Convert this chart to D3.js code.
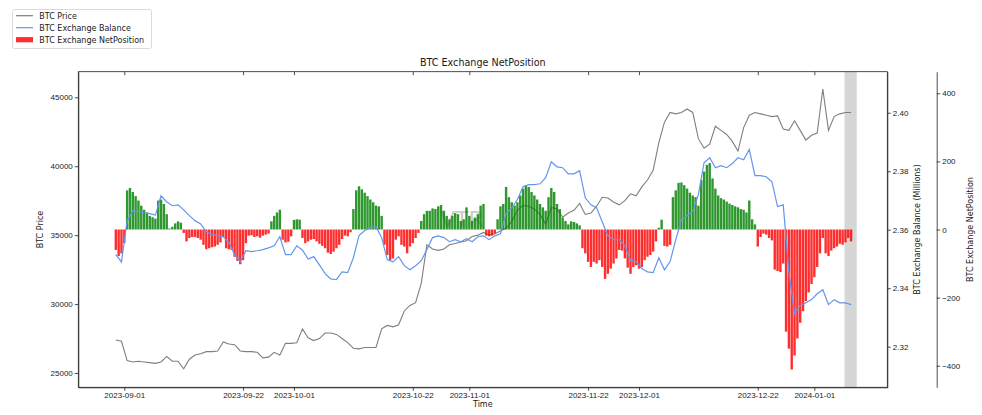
<!DOCTYPE html>
<html>
<head>
<meta charset="utf-8">
<script src="https://cdn.jsdelivr.net/npm/d3@7"></script>
<style>
body { margin: 0; background: #fff; }
svg { font-family: "DejaVu Sans", sans-serif; }
.axis text { font-size: 8px; fill: #1a1a1a; }
.axis path, .axis line { stroke: #222; stroke-width: 0.8; }
</style>
</head>
<body>
<script>
// daily price / balance, first point 2023-08-30 12:00 UTC
var startDay = "2023-08-30T12:00:00Z";
// net position every 12h from the same start
var netStepHours = 12;

var price = [
  27400, 27300, 25900, 25800, 25850, 25800, 25750, 25700, 25800, 26200,
  25850, 25850, 25300, 26000, 26300, 26400, 26550, 26550, 26600, 27250,
  27100, 27050, 26600, 26550, 26550, 26500, 26100, 26150, 26500, 26300,
  27150, 27150, 27200, 28200, 27550, 27350, 27500, 27900, 27900, 27800,
  27500, 27200, 26800, 26750, 26850, 26850, 26850, 28200, 28450, 28350,
  28500, 29500, 29900, 30100, 31500, 34300, 34000, 33900, 34000, 34300,
  34400, 34500, 34600, 34900, 35000, 35200, 35000, 35100, 35300, 35500,
  36000, 36800, 37150, 37100, 36900, 36500, 35800, 37000, 36900, 36300,
  36600, 36800, 37300, 36500, 36600, 37100, 37750, 37700, 37400, 37200,
  37500, 38000, 37850, 38500, 39000, 39700, 41700, 43200, 43900, 43800,
  43900, 44150, 43900, 42000, 41300, 41600, 42900, 42600, 42300, 41800,
  41100, 42800, 43700, 43900, 43800, 43700, 43600, 43650, 42700, 42600,
  43300, 42600, 41900, 42250, 42400, 45600, 42600, 43600, 43800, 43900,
  43900
];

// millions of BTC
var balance = [
  2.3515, 2.3490, 2.3630, 2.3665, 2.3662, 2.3658, 2.3655, 2.3650, 2.3716, 2.3695,
  2.3682, 2.3685, 2.3668, 2.3648, 2.3631, 2.3620, 2.3593, 2.3583, 2.3580, 2.3576,
  2.3556, 2.3515, 2.3490, 2.3528, 2.3525, 2.3528, 2.3532, 2.3538, 2.3545, 2.3576,
  2.3515, 2.3515, 2.3545, 2.3530, 2.3500, 2.3508, 2.3480, 2.3450, 2.3432, 2.3429,
  2.3456, 2.3453, 2.3504, 2.3580, 2.3597, 2.3607, 2.3610, 2.3573, 2.3497, 2.3490,
  2.3508, 2.3477, 2.3463, 2.3477, 2.3494, 2.3532, 2.3573, 2.3579, 2.3573, 2.3559,
  2.3566, 2.3559, 2.3569, 2.3559, 2.3576, 2.3579, 2.3566, 2.3579, 2.3586, 2.3655,
  2.3675, 2.3703, 2.3747, 2.3754, 2.3754, 2.3757, 2.3778, 2.3832, 2.3815, 2.3812,
  2.3791, 2.3791, 2.3802, 2.3709, 2.3685, 2.3675, 2.3627, 2.3579, 2.3566, 2.3566,
  2.3545, 2.3494, 2.3491, 2.3467, 2.3456, 2.3453, 2.3504, 2.3463, 2.3491, 2.3566,
  2.3634, 2.3648, 2.3662, 2.3720, 2.3829, 2.3846, 2.3812, 2.3819, 2.3812, 2.3826,
  2.3846, 2.3839, 2.3874, 2.3785, 2.3785, 2.3781, 2.3764, 2.3679, 2.3685, 2.3456,
  2.3313, 2.3340, 2.3350, 2.3361, 2.3381, 2.3395, 2.3344, 2.3361, 2.3350, 2.3350,
  2.3344
];

var netPosition = [
  -60, -78, -70, -40, 115, 122, 110, 98, 85, 70,
  58, 50, 40, 36, 32, 85, 88, 75, 45, 3,
  8, 18, 24, 20, -10, -35, -25, -22, -22, -25,
  -30, -45, -58, -55, -52, -50, -45, -38, -22, -55,
  -58, -60, -80, -92, -102, -90, -40, -18, -17, -22,
  -20, -24, -18, -15, -12, 24, 40, 50, 58, -30,
  -38, -36, -20, 28, 30, 29, -25, -40, -35, -30,
  -28, -35, -42, -48, -55, -68, -72, -65, -55, -45,
  -28, -18, -20, -8, 60, 115, 127, 118, 108, 98,
  88, 80, 70, 68, 40, -45, -75, -90, -85, -30,
  -20, -45, -50, -70, -50, -40, -25, -10, 25, 45,
  55, 55, 62, 60, 68, 72, 55, 40, 30, 40,
  48, 45, 25, 30, 65, 40, 25, 35, 45, 70,
  75, -18, -20, -18, -12, 30, 68, 75, 125, 95,
  80, 70, 80, 100, 120, 130, 125, 110, 100, 88,
  75, 65, 55, 95, 122, 110, 75, 60, 35, 25,
  15, 24, 22, 18, 12, -55, -70, -95, -110, -95,
  -100, -90, -110, -145, -130, -115, -100, -85, -60, -62,
  -85, -112, -130, -110, -105, -115, -110, -90, -80, -75,
  -65, -35, 5, 29, -48, -50, -45, 95, 115, 137,
  138, 130, 120, 108, 100, 95, 70, 145, 170, 190,
  195, 150, 120, 100, 92, 88, 82, 76, 72, 68,
  65, 60, 58, 50, 85, 30, 15, -50, -22, -12,
  -15, -25, -32, -118, -122, -125, -100, -300, -350, -411,
  -370, -320, -274, -240, -210, -185, -160, -140, -110, -70,
  -25, -70, -78, -62, -55, -50, -42, -45, -38, -25,
  -35
];

var tickDates = ["2023-09-01", "2023-09-22", "2023-10-01", "2023-10-22", "2023-11-01",
                 "2023-11-22", "2023-12-01", "2023-12-22", "2024-01-01"];
var priceTicks = [25000, 30000, 35000, 40000, 45000];
var balanceTicks = [2.32, 2.34, 2.36, 2.38, 2.40];
var netTicks = [-400, -200, 0, 200, 400];
var shadeRange = ["2024-01-06T08:00:00Z", "2024-01-08T12:00:00Z"];

var W = 982, H = 415;
var L = 78.3, R = 887.3, T = 71.7, B = 387.3;
var axis3X = 936.7;

var parseIso = d3.isoParse;
var t0 = parseIso(startDay);
var dates = price.map(function(d, i) { return d3.utcDay.offset(t0, i); });
var netDates = netPosition.map(function(d, i) { return d3.utcHour.offset(t0, i * netStepHours); });

var x = d3.scaleUtc()
  .domain([parseIso("2023-08-23T20:48:00Z"), parseIso("2024-01-13T21:36:00Z")])
  .range([L, R]);
var yPrice = d3.scaleLinear().domain([23963, 46857]).range([B, T]);
var yBal = d3.scaleLinear().domain([2.30612, 2.41402]).range([B, T]);
var yNet = d3.scaleLinear().domain([-463.4, 463.4]).range([B, T]);

var svg = d3.select("body").append("svg")
  .attr("width", W)
  .attr("height", H);

svg.append("rect").attr("width", W).attr("height", H).attr("fill", "#fff");

var plot = svg.append("g");

// shaded last days
plot.append("rect")
  .attr("x", x(parseIso(shadeRange[0])))
  .attr("y", T)
  .attr("width", x(parseIso(shadeRange[1])) - x(parseIso(shadeRange[0])))
  .attr("height", B - T)
  .attr("fill", "#d6d6d6");

// watermark
plot.append("text")
  .attr("x", 462).attr("y", 227)
  .attr("text-anchor", "middle")
  .attr("font-size", 22)
  .attr("fill", "#9a9a9a")
  .attr("opacity", 0.5)
  .text("VTR");

// price line
var priceLine = d3.line()
  .x(function(d, i) { return x(dates[i]); })
  .y(function(d) { return yPrice(d); });

plot.append("path")
  .datum(price)
  .attr("d", priceLine)
  .attr("fill", "none")
  .attr("stroke", "#7f7f7f")
  .attr("stroke-width", 1.1);

// net position bars
var step = x(netDates[1]) - x(netDates[0]);
var bw = step * 0.85;

plot.selectAll("rect.bar")
  .data(netPosition)
  .enter()
  .append("rect")
  .attr("class", "bar")
  .attr("x", function(d, i) { return x(netDates[i]) - bw / 2; })
  .attr("y", function(d) { return d >= 0 ? yNet(d) : yNet(0); })
  .attr("width", bw)
  .attr("height", function(d) { return Math.abs(yNet(d) - yNet(0)); })
  .attr("fill", function(d) { return d >= 0 ? "green" : "red"; })
  .attr("opacity", 0.82);

// exchange balance line
var balLine = d3.line()
  .x(function(d, i) { return x(dates[i]); })
  .y(function(d) { return yBal(d); });

plot.append("path")
  .datum(balance)
  .attr("d", balLine)
  .attr("fill", "none")
  .attr("stroke", "#6495ed")
  .attr("stroke-width", 1.2);

// frame
svg.append("rect")
  .attr("x", L).attr("y", T)
  .attr("width", R - L).attr("height", B - T)
  .attr("fill", "none")
  .attr("stroke", "#222")
  .attr("stroke-width", 0.8);

var tickDateObjs = tickDates.map(function(s) { return d3.utcParse("%Y-%m-%d")(s); });

svg.append("g")
  .attr("class", "axis")
  .attr("transform", "translate(0," + B + ")")
  .call(d3.axisBottom(x).tickValues(tickDateObjs)
    .tickFormat(d3.utcFormat("%Y-%m-%d"))
    .tickSize(3.5).tickSizeOuter(0).tickPadding(2));

// small inward ticks on top spine
svg.append("g")
  .attr("class", "axis")
  .attr("transform", "translate(0," + T + ")")
  .call(d3.axisBottom(x).tickValues(tickDateObjs)
    .tickFormat("").tickSize(3.5).tickSizeOuter(0))
  .select(".domain").remove();

svg.append("g")
  .attr("class", "axis")
  .attr("transform", "translate(" + L + ",0)")
  .call(d3.axisLeft(yPrice).tickValues(priceTicks)
    .tickFormat(d3.format("d"))
    .tickSize(3.5).tickSizeOuter(0).tickPadding(2));

svg.append("g")
  .attr("class", "axis")
  .attr("transform", "translate(" + R + ",0)")
  .call(d3.axisRight(yBal).tickValues(balanceTicks)
    .tickFormat(d3.format(".2f"))
    .tickSize(3.5).tickSizeOuter(0).tickPadding(2));

svg.append("g")
  .attr("class", "axis")
  .attr("transform", "translate(" + axis3X + ",0)")
  .call(d3.axisRight(yNet).tickValues(netTicks)
    .tickFormat(d3.format("d"))
    .tickSize(3.5).tickSizeOuter(0).tickPadding(2));

// titles and labels
svg.append("text")
  .attr("x", (L + R) / 2).attr("y", 66)
  .attr("text-anchor", "middle")
  .attr("font-size", 9.6)
  .attr("fill", "#1a1a1a")
  .text("BTC Exchange NetPosition");

svg.append("text")
  .attr("x", (L + R) / 2).attr("y", 407)
  .attr("text-anchor", "middle")
  .attr("font-size", 8)
  .attr("fill", "#1a1a1a")
  .text("Time");

function vLabel(cx, cy, txt) {
  svg.append("text")
    .attr("transform", "translate(" + cx + "," + cy + ") rotate(-90)")
    .attr("text-anchor", "middle")
    .attr("dy", "0.35em")
    .attr("font-size", 8)
    .attr("fill", "#1a1a1a")
    .text(txt);
}
vLabel(40, (T + B) / 2, "BTC Price");
vLabel(917, (T + B) / 2, "BTC Exchange Balance (Millions)");
vLabel(970, (T + B) / 2, "BTC Exchange NetPosition");

// legend
var lg = svg.append("g");
lg.append("rect")
  .attr("x", 12.5).attr("y", 9.5)
  .attr("width", 139).attr("height", 39)
  .attr("rx", 2)
  .attr("fill", "#fff")
  .attr("stroke", "#d0d0d0")
  .attr("stroke-width", 0.8);

var legendItems = [
  { label: "BTC Price", color: "#7f7f7f", kind: "line" },
  { label: "BTC Exchange Balance", color: "#6495ed", kind: "line" },
  { label: "BTC Exchange NetPosition", color: "red", kind: "patch" }
];

legendItems.forEach(function(d, i) {
  var cy = 15.7 + i * 12;
  if (d.kind == "line") {
    lg.append("line")
      .attr("x1", 16).attr("x2", 33)
      .attr("y1", cy).attr("y2", cy)
      .attr("stroke", d.color)
      .attr("stroke-width", 1.2);
  } else {
    lg.append("rect")
      .attr("x", 16).attr("y", cy - 2.6)
      .attr("width", 17).attr("height", 5.2)
      .attr("fill", d.color)
      .attr("opacity", 0.82);
  }
  lg.append("text")
    .attr("x", 39.3).attr("y", cy)
    .attr("dy", "0.35em")
    .attr("font-size", 8)
    .attr("fill", "#1a1a1a")
    .text(d.label);
});
</script>
</body>
</html>
